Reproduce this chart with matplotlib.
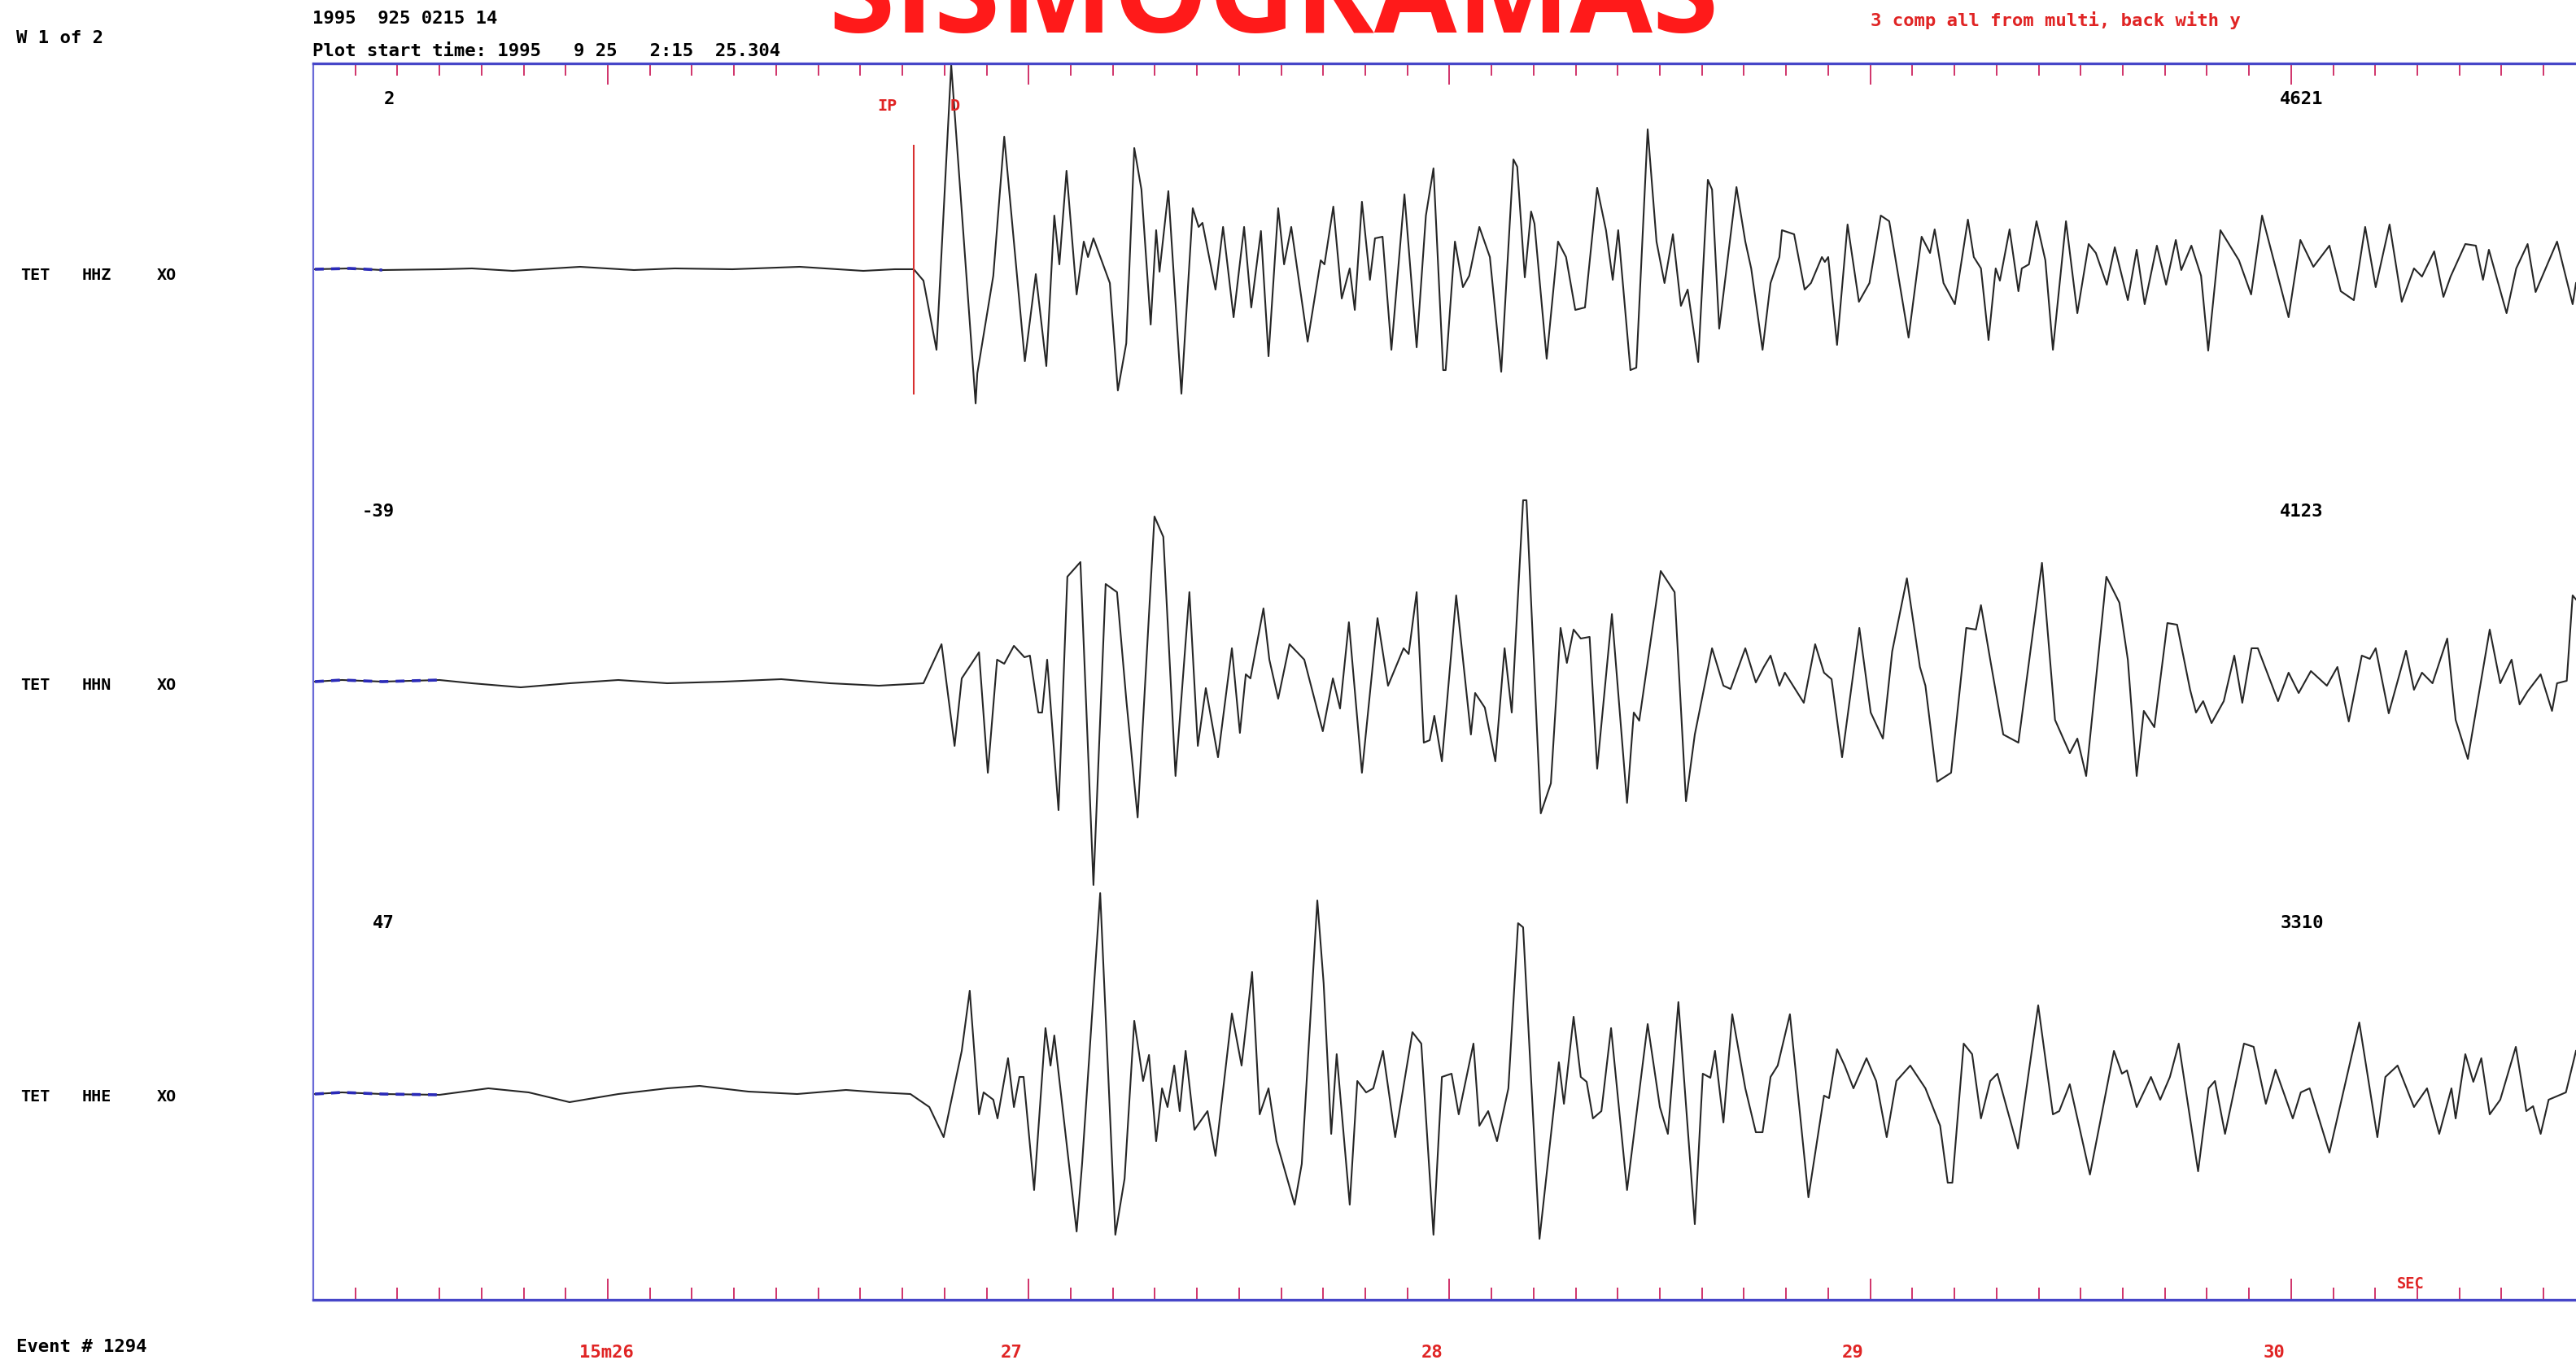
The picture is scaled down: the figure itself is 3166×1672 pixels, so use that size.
import numpy as np
import matplotlib
matplotlib.use("Agg")
import matplotlib.pyplot as plt
from matplotlib.ticker import FixedLocator, MultipleLocator

# three-component record TET (HHZ / HHN / HHE), event 1294
plot_start = 25.304          # seconds after 02:15
ip_time = 26.727             # IP pick
channels = ["HHZ", "HHN", "HHE"]
dc_level = ["2", "-39", "47"]
max_amp = ["4621", "4123", "3310"]
sec_labels = ["15m26", "27", "28", "29", "30"]
sec_ticks = [26, 27, 28, 29, 30]

hhz_t = [25.304, 25.387, 25.464, 25.606, 25.677, 25.774, 25.934, 26.062, 26.159, 26.296,
         26.456, 26.607, 26.682, 26.727, 26.750, 26.781, 26.816, 26.847, 26.874, 26.878,
         26.916, 26.942, 26.991, 27.017, 27.042, 27.061, 27.073, 27.090, 27.114, 27.131,
         27.141, 27.154, 27.193, 27.212, 27.232, 27.251, 27.268, 27.290, 27.303, 27.311,
         27.332, 27.363, 27.390, 27.404, 27.413, 27.444, 27.462, 27.487, 27.512, 27.529,
         27.552, 27.570, 27.593, 27.607, 27.624, 27.663, 27.694, 27.703, 27.724, 27.744,
         27.763, 27.775, 27.792, 27.811, 27.823, 27.841, 27.862, 27.893, 27.922, 27.944,
         27.962, 27.985, 27.991, 28.013, 28.032, 28.047, 28.071, 28.096, 28.123, 28.152,
         28.161, 28.179, 28.194, 28.202, 28.231, 28.258, 28.277, 28.299, 28.322, 28.351,
         28.372, 28.388, 28.401, 28.430, 28.444, 28.471, 28.492, 28.511, 28.531, 28.550,
         28.566, 28.591, 28.614, 28.624, 28.641, 28.682, 28.703, 28.717, 28.744, 28.763,
         28.784, 28.790, 28.819, 28.844, 28.859, 28.885, 28.892, 28.900, 28.921, 28.946,
         28.973, 28.998, 29.025, 29.045, 29.091, 29.122, 29.142, 29.153, 29.174, 29.201,
         29.232, 29.246, 29.263, 29.281, 29.298, 29.308, 29.331, 29.352, 29.360, 29.377,
         29.395, 29.416, 29.434, 29.465, 29.492, 29.519, 29.536, 29.562, 29.581, 29.612,
         29.633, 29.652, 29.681, 29.703, 29.726, 29.739, 29.763, 29.786, 29.803, 29.832,
         29.876, 29.905, 29.931, 29.994, 30.022, 30.053, 30.091, 30.118, 30.149, 30.176,
         30.201, 30.234, 30.263, 30.292, 30.311, 30.340, 30.362, 30.379, 30.414, 30.439,
         30.456, 30.470, 30.512, 30.535, 30.562, 30.581, 30.632, 30.669, 30.677]
hhz_a = [-1, 0, -2, -1, 0, -3, 2, -2, 0, -1,
         2, -3, -1, -1, -15, -100, 250, 28, -166, -129,
         -9, 162, -114, -7, -120, 65, 5, 120, -32, 33,
         14, 37, -18, -150, -92, 148, 97, -69, 47, -4,
         95, -154, 74, 51, 56, -26, 51, -60, 51, -48,
         46, -108, 74, 5, 51, -90, 10, 5, 76, -37,
         0, -51, 82, -14, 37, 39, -100, 91, -97, 65,
         123, -125, -125, 33, -23, -9, 51, 14, -127, 134,
         125, -11, 70, 55, -111, 33, 14, -51, -48, 99,
         47, -14, 47, -125, -122, 171, 33, -18, 42, -46,
         -26, -115, 109, 97, -74, 100, 33, 0, -100, -18,
         14, 47, 42, -26, -18, 14, 8, 14, -94, 54,
         -41, -18, 65, 58, -85, 39, 19, 48, -18, -44,
         60, 14, 0, -88, 0, -15, 48, -28, 0, 5,
         58, 10, -100, 58, -55, 30, 19, -20, 26, -39,
         23, -44, 28, -20, 35, -2, 28, -9, -101, 47,
         10, -32, 65, -60, 35, 2, 28, -28, -39, 51,
         -23, 54, -41, 0, -10, 21, -35, -10, 30, 28,
         -14, 23, -55, 0, 30, -29, 33, -44, -18]

hhn_t = [25.304, 25.368, 25.464, 25.600, 25.677, 25.793, 25.909, 26.025, 26.141, 26.276,
         26.412, 26.528, 26.644, 26.750, 26.793, 26.824, 26.841, 26.882, 26.903, 26.925,
         26.942, 26.965, 26.990, 27.003, 27.023, 27.032, 27.044, 27.071, 27.092, 27.123,
         27.154, 27.183, 27.210, 27.232, 27.259, 27.299, 27.320, 27.349, 27.382, 27.402,
         27.421, 27.450, 27.483, 27.502, 27.516, 27.527, 27.558, 27.572, 27.593, 27.620,
         27.655, 27.699, 27.723, 27.740, 27.761, 27.792, 27.829, 27.854, 27.891, 27.903,
         27.922, 27.939, 27.953, 27.964, 27.982, 28.016, 28.051, 28.061, 28.084, 28.109,
         28.131, 28.148, 28.175, 28.183, 28.217, 28.241, 28.264, 28.279, 28.295, 28.312,
         28.333, 28.351, 28.386, 28.422, 28.438, 28.451, 28.502, 28.535, 28.562, 28.583,
         28.624, 28.651, 28.668, 28.703, 28.728, 28.747, 28.763, 28.784, 28.797, 28.842,
         28.869, 28.890, 28.908, 28.933, 28.974, 29.001, 29.030, 29.052, 29.087, 29.118,
         29.131, 29.159, 29.192, 29.228, 29.251, 29.263, 29.285, 29.316, 29.352, 29.408,
         29.439, 29.474, 29.492, 29.513, 29.561, 29.592, 29.612, 29.633, 29.650, 29.675,
         29.706, 29.729, 29.760, 29.774, 29.791, 29.811, 29.840, 29.865, 29.884, 29.906,
         29.921, 29.969, 29.994, 30.018, 30.047, 30.085, 30.110, 30.137, 30.168, 30.187,
         30.201, 30.232, 30.273, 30.292, 30.311, 30.336, 30.371, 30.391, 30.420, 30.472,
         30.497, 30.524, 30.543, 30.562, 30.593, 30.620, 30.632, 30.655, 30.669, 30.677]
hhn_a = [2, 4, 2, 4, 0, -5, 0, 4, 0, 2,
         5, 0, -3, 0, 48, -77, 6, 38, -110, 29,
         24, 46, 32, 34, -36, -36, 29, -156, 131, 149,
         -248, 122, 112, -20, -165, 205, 180, -114, 112, -77,
         -6, -91, 43, -61, 11, 6, 92, 29, -19, 48,
         29, -59, 6, -31, 75, -110, 80, -3, 43, 36,
         112, -73, -70, -40, -96, 108, -63, -12, -30, -96,
         43, -36, 225, 225, -160, -123, 68, 25, 66, 55,
         57, -105, 85, -147, -36, -46, 138, 112, -145, -63,
         43, -3, -7, 43, 1, 20, 34, -3, 13, -24,
         48, 13, 5, -91, 68, -36, -68, 39, 129, 20,
         -3, -121, -110, 68, 66, 96, 29, -63, -73, 148,
         -45, -86, -68, -114, 131, 99, 29, -114, -34, -54,
         74, 72, -8, -36, -22, -49, -22, 34, -24, 43,
         43, -22, 13, -12, 15, -3, 20, -47, 34, 30,
         43, -37, 40, -8, 13, 0, 55, -45, -93, 66,
         0, 29, -26, -10, 11, -34, 0, 3, 108, 103]

hhe_t = [25.304, 25.368, 25.464, 25.600, 25.716, 25.812, 25.909, 26.025, 26.141, 26.218,
         26.334, 26.450, 26.566, 26.644, 26.719, 26.764, 26.798, 26.841, 26.860, 26.882,
         26.893, 26.916, 26.926, 26.951, 26.965, 26.978, 26.988, 27.013, 27.040, 27.052,
         27.061, 27.114, 27.127, 27.170, 27.206, 27.228, 27.251, 27.272, 27.286, 27.303,
         27.317, 27.330, 27.346, 27.359, 27.373, 27.394, 27.425, 27.444, 27.483, 27.506,
         27.531, 27.549, 27.570, 27.589, 27.632, 27.649, 27.686, 27.701, 27.719, 27.732,
         27.763, 27.781, 27.802, 27.819, 27.842, 27.871, 27.912, 27.933, 27.962, 27.982,
         28.005, 28.022, 28.057, 28.071, 28.092, 28.113, 28.140, 28.163, 28.175, 28.214,
         28.260, 28.272, 28.295, 28.312, 28.326, 28.341, 28.361, 28.384, 28.422, 28.471,
         28.500, 28.519, 28.544, 28.583, 28.602, 28.620, 28.631, 28.651, 28.672, 28.703,
         28.728, 28.744, 28.763, 28.780, 28.809, 28.853, 28.890, 28.902, 28.921, 28.939,
         28.960, 28.991, 29.014, 29.039, 29.062, 29.095, 29.131, 29.166, 29.184, 29.195,
         29.222, 29.242, 29.263, 29.285, 29.302, 29.351, 29.399, 29.434, 29.449, 29.474,
         29.522, 29.579, 29.598, 29.610, 29.633, 29.667, 29.689, 29.712, 29.733, 29.779,
         29.804, 29.819, 29.843, 29.888, 29.911, 29.940, 29.963, 30.004, 30.023, 30.044,
         30.091, 30.162, 30.205, 30.224, 30.253, 30.292, 30.323, 30.352, 30.381, 30.391,
         30.414, 30.433, 30.452, 30.472, 30.497, 30.534, 30.559, 30.575, 30.593, 30.612,
         30.653, 30.677]
hhe_a = [-2, 0, -2, -3, 5, 0, -12, -2, 5, 8,
         1, -2, 3, 0, -2, -18, -55, 51, 125, -27,
         0, -9, -32, 42, -18, 19, 19, -120, 79, 33,
         70, -171, -88, 245, -175, -106, 88, 14, 46, -60,
         5, -18, 33, -23, 51, -46, -23, -78, 97, 33,
         148, -27, 5, -60, -138, -88, 236, 134, -51, 47,
         -138, 14, 0, 5, 51, -55, 74, 60, -175, 19,
         23, -27, 60, -41, -23, -60, 5, 208, 203, -180,
         37, -14, 93, 19, 13, -32, -23, 79, -120, 84,
         -18, -51, 111, -162, 23, 18, 51, -37, 96, 5,
         -49, -49, 19, 33, 96, -129, -4, -7, 53, 33,
         5, 42, 14, -55, 14, 33, 5, -41, -111, -111,
         60, 47, -32, 14, 23, -69, 107, -27, -23, 10,
         -101, 51, 23, 27, -18, 19, -9, 19, 60, -97,
         5, 14, -51, 60, 56, -14, 28, -32, 0, 5,
         -74, 86, -55, 19, 33, -18, 5, -51, 5, -32,
         47, 13, 42, -27, -9, 56, -23, -17, -51, -9,
         0, 51]

traces = [(hhz_t, hhz_a), (hhn_t, hhn_a), (hhe_t, hhe_a)]

# ---- layout (pixel grid of the output image) ----
W, H = 3166, 1672
box_left, box_top, box_bottom = 385, 78, 1598
baselines = [330, 840, 1343]

MONO = ["DejaVu Sans Mono"]
RED = "#e02424"
BLUE = "#4646c8"
TICK = "#d0336a"
FS = 16


def fxy(px, py):
    return px / W, 1 - py / H


fig = plt.figure(figsize=(W / 100, H / 100), dpi=100)
fig.patch.set_facecolor("white")
ax = fig.add_axes([box_left / W, 1 - box_bottom / H,
                   1 - box_left / W, (box_bottom - box_top) / H])
ax.set_xlim(25.300, 30.677)
ax.set_ylim(box_bottom, box_top)   # rows grow downwards

for (t, a), base in zip(traces, baselines):
    t = np.asarray(t)
    y = base - np.asarray(a)
    ax.plot(t, y, color="#262626", lw=1.5, solid_joinstyle="round")
    head = t <= 25.60
    ax.plot(t[head], y[head], color="#2a2ab8", lw=2.6, ls=(0, (3, 2.5)))

# IP pick
ax.vlines(ip_time, 178, 485, color="#d83030", lw=1.5)

# frame
for side in ["top", "bottom"]:
    ax.spines[side].set_color(BLUE)
    ax.spines[side].set_linewidth(2.4)
ax.spines["left"].set_color("#6a6ad8")
ax.spines["left"].set_linewidth(1.6)
ax.spines["right"].set_visible(False)

ax.xaxis.set_major_locator(FixedLocator(sec_ticks))
ax.xaxis.set_minor_locator(MultipleLocator(0.1))
ax.tick_params(axis="x", which="both", direction="in", top=True, bottom=True,
               labelbottom=False, labeltop=False, color=TICK, width=1.4)
ax.tick_params(axis="x", which="major", length=18.5)
ax.tick_params(axis="x", which="minor", length=10.5)
ax.tick_params(axis="y", left=False, labelleft=False)

# second marks below the frame
for lab, sec in zip(sec_labels, sec_ticks):
    ax.text(sec - 0.067, 1663, lab, ha="left", va="center", color=RED,
            family=MONO, weight="bold", fontsize=FS, clip_on=False)

# header
fig.text(*fxy(20, 47), "W 1 of 2", ha="left", va="center",
         family=MONO, weight="bold", fontsize=FS)
fig.text(*fxy(384, 23), "1995  925 0215 14", ha="left", va="center",
         family=MONO, weight="bold", fontsize=FS)
fig.text(*fxy(384, 63), "Plot start time: 1995   9 25   2:15  25.304", ha="left",
         va="center", family=MONO, weight="bold", fontsize=FS)
fig.text(*fxy(2299, 25), "3 comp all from multi, back with y", ha="left", va="center",
         family=MONO, weight="bold", fontsize=FS, color=RED)
fig.text(*fxy(1565, 40), "SISMOGRAMAS", ha="center", va="baseline",
         family=["Open Sans", "DejaVu Sans"], weight="bold", fontsize=106,
         color="#ff1a1a")

# channel labels and amplitudes
label_rows = [338, 842, 1349]
num_rows = [122, 629, 1135]
for ch, dc, amp, row, nrow in zip(channels, dc_level, max_amp, label_rows, num_rows):
    for px, s in [(25, "TET"), (101, ch), (193, "XO")]:
        fig.text(*fxy(px, row), s, ha="left", va="center",
                 family=MONO, weight="bold", fontsize=14.5)
    fig.text(*fxy(485, nrow), dc, ha="right", va="center",
             family=MONO, weight="bold", fontsize=FS)
    fig.text(*fxy(2829, nrow), amp, ha="center", va="center",
             family=MONO, weight="bold", fontsize=FS)

fig.text(*fxy(1090, 131), "IP", ha="center", va="center",
         family=MONO, weight="bold", fontsize=14.5, color=RED)
fig.text(*fxy(1174, 131), "D", ha="center", va="center",
         family=MONO, weight="bold", fontsize=14.5, color=RED)
fig.text(*fxy(2963, 1578), "SEC", ha="center", va="center",
         family=MONO, weight="bold", fontsize=13.5, color=RED)
fig.text(*fxy(20, 1656), "Event # 1294", ha="left", va="center",
         family=MONO, weight="bold", fontsize=FS)

fig.savefig("out.png", dpi=100, facecolor="white")
